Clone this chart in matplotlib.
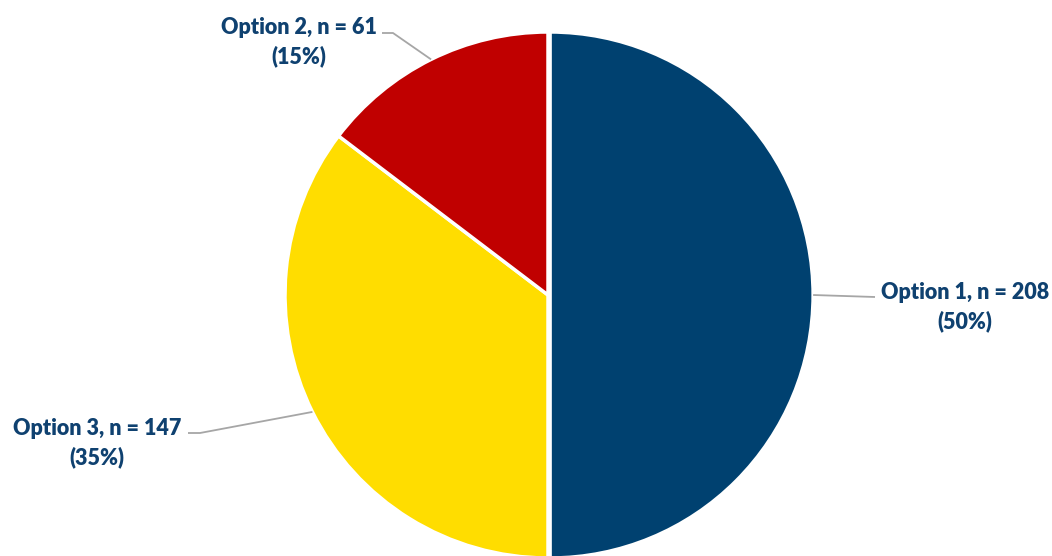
import matplotlib
matplotlib.use("Agg")
import matplotlib.pyplot as plt
import numpy as np

# datos del grafico (orden en sentido horario desde arriba)
labels = ["Option 1", "Option 3", "Option 2"]
counts = [208, 147, 61]
colors = ["#004170", "#FFDD00", "#C00000"]
text_color = "#0F4170"
line_color = "#A6A6A6"

W, H = 1052, 556
cx, cy, R = 548, 295, 263  # centro y radio en pixeles


def px(x, y):
    # pixel (desde arriba-izquierda) -> coordenadas de datos
    return (x - cx) / R, (cy - y) / R


fig = plt.figure(figsize=(W / 100, H / 100), dpi=100)
ax = fig.add_axes([0, 0, 1, 1])

wedges, _ = ax.pie(counts, colors=colors, startangle=90, counterclock=False,
                   explode=[0.008, 0, 0],
                   wedgeprops=dict(edgecolor="white", linewidth=2.5))
ax.set_aspect("auto")
ax.set_xlim(px(0, 0)[0], px(W, 0)[0])
ax.set_ylim(px(0, H)[1], px(0, 0)[1])
ax.axis("off")

total = sum(counts)
pct = [round(100 * c / total) for c in counts]

# posicion de etiqueta y codos de la linea guia (pixeles)
label_pos = [(965, 307), (97, 443), (299, 42)]
elbows = [[(875, 297)], [(200, 433), (188, 433)], [(393, 33), (382, 33)]]

for w, lab, n, p, lp, el in zip(wedges, labels, counts, pct, label_pos, elbows):
    ang = np.deg2rad((w.theta1 + w.theta2) / 2)
    x0 = w.center[0] + w.r * np.cos(ang)
    y0 = w.center[1] + w.r * np.sin(ang)
    xs = [x0] + [px(*e)[0] for e in el]
    ys = [y0] + [px(*e)[1] for e in el]
    ax.plot(xs, ys, color=line_color, lw=1.3, solid_capstyle="butt")
    tx, ty = px(*lp)
    ax.text(tx, ty, "{}, n = {}\n({}%)".format(lab, n, p), ha="center", va="center",
            fontsize=15.5, fontweight="heavy", color=text_color, family="Lato",
            linespacing=1.45)

fig.savefig("out.png", dpi=100)
